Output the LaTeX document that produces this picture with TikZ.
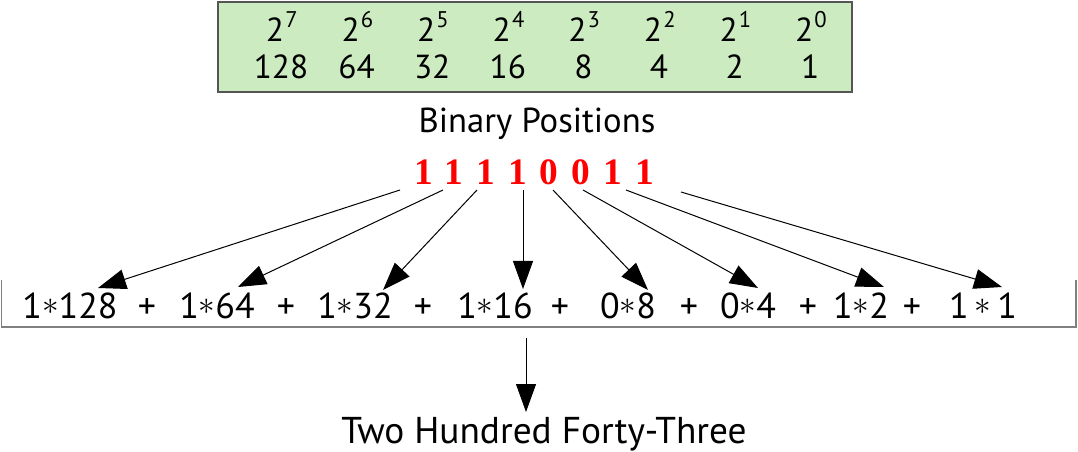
\documentclass[tikz,border=0pt]{standalone}
\usepackage{fontspec}
\setmainfont{PT Sans}
\newfontfamily\bitfont{Liberation Serif}
\usetikzlibrary{arrows.meta}
\definecolor{boxgreen}{RGB}{205,235,193}
\definecolor{boxedge}{RGB}{85,85,85}
\definecolor{bracketgray}{RGB}{128,128,128}
\newcommand{\mult}{\raisebox{3.4pt}{\fontsize{24}{24}\selectfont$\ast$}}
\begin{document}
\begin{tikzpicture}[x=0.75pt,y=-0.75pt,
  boxtxt/.style={font=\fontsize{25}{28}\selectfont, inner sep=0pt, anchor=base},
  label/.style={font=\fontsize{26}{30}\selectfont, inner sep=0pt, anchor=base},
  reslabel/.style={font=\fontsize{28}{30}\selectfont, inner sep=0pt, anchor=base},
  bit/.style={font=\bitfont\bfseries\fontsize{28}{32}\selectfont, text=red, inner sep=0pt, anchor=base},
  term/.style={font=\fontsize{27}{30}\selectfont, inner sep=0pt, anchor=base},
  sup/.style={font=\fontsize{17}{20}\selectfont, inner sep=0pt, anchor=base west},
  arr/.style={line width=0.75pt, -{Triangle[length=21pt,width=15pt]}},
  bracket/.style={draw=bracketgray, line width=1.2pt}]
\useasboundingbox (0,0) rectangle (1078,452);
% green box
\node (box) [draw=boxedge, fill=boxgreen, line width=1.1pt, inner sep=0pt,
  minimum width=475.5pt, minimum height=67.5pt] at (535,47) {};
% powers and values
\foreach \e/\v [count=\i from 0] in {7/128,6/64,5/32,4/16,3/8,2/4,1/2,0/1} {
  \node (p\e) [boxtxt] at ({275+75.6*\i},42) {2};
  \node (x\e) [sup] at ([yshift=11pt,xshift=0.5pt]p\e.base east) {\e};
  \node (v\e) [boxtxt] at ({281+75.6*\i},79) {\v};
}
\node (lab) [label] at (537,133) {Binary Positions};
% bits
\foreach \b/\x [count=\i] in {1/424,1/454,1/486,1/518,0/549,0/581,1/613,1/645} {
  \node (b\i) [bit] at (\x,185) {\b};
}
% terms
\node (t1) [term] at (70,319) {1\mult128};
\node (pl1) [term] at (147,319) {+};
\node (t2) [term] at (217,319) {1\mult64};
\node (pl2) [term] at (286,319) {+};
\node (t3) [term] at (355,319) {1\mult32};
\node (pl3) [term] at (423,319) {+};
\node (t4) [term] at (495,319) {1\mult16};
\node (pl4) [term] at (560,319) {+};
\node (t5) [term] at (628,319) {0\mult8};
\node (pl5) [term] at (689,319) {+};
\node (t6) [term] at (748,319) {0\mult4};
\node (pl6) [term] at (808,319) {+};
\node (t7) [term] at (861,319) {1\mult2};
\node (pl7) [term] at (912,319) {+};
\node (t8) [term] at (983,319) {1\,\mult\,1};
% arrow ends
\coordinate (s1) at (400,190); \coordinate (e1) at (98,288);
\coordinate (s2) at (443,190); \coordinate (e2) at (238,287);
\coordinate (s3) at (477,190); \coordinate (e3) at (383,290);
\coordinate (s4) at (523,190); \coordinate (e4) at (523,289);
\coordinate (s5) at (553,190); \coordinate (e5) at (648,290);
\coordinate (s6) at (583,190); \coordinate (e6) at (758,288);
\coordinate (s7) at (626,190); \coordinate (e7) at (884,287);
\coordinate (s8) at (681,192); \coordinate (e8) at (1002,287);
\foreach \i in {1,...,8} { \draw[arr] (s\i) -- (e\i); }
% bracket
\coordinate (bl) at (1.5,280); \coordinate (br) at (1076,280);
\draw[bracket] (bl) -- (bl |- 0,327) -- (br |- 0,327) -- (br);
% result
\node (res) [reslabel] at (544,443) {Two Hundred Forty-Three};
\coordinate (d0) at (526,338); \coordinate (d1) at (526,412);
\draw[arr] (d0) -- (d1);
\end{tikzpicture}
\end{document}
